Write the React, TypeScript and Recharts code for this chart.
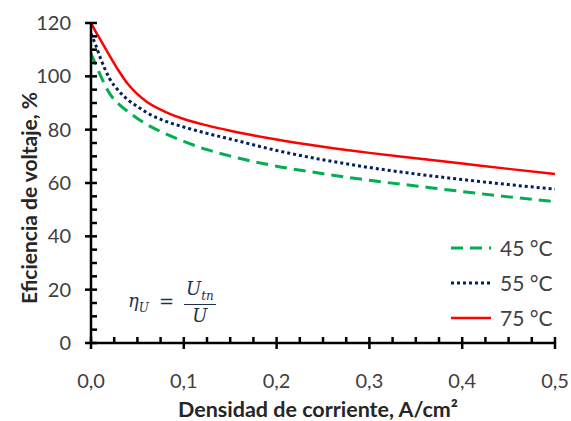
import { LineChart, Line, XAxis, YAxis, Label } from "recharts";

// densidad de corriente, A/cm2
const densidad = [0, 0.005, 0.01, 0.02, 0.03, 0.04, 0.05, 0.06, 0.08, 0.1, 0.125, 0.15, 0.2, 0.25, 0.3, 0.35, 0.4, 0.45, 0.5];
// eficiencia de voltaje, %
const ef45 = [108.5, 104.5, 100.5, 93.6, 89.6, 86.7, 84.2, 82, 78.5, 75.6, 72.5, 70.1, 66.3, 63.5, 61, 58.9, 56.8, 54.8, 53];
const ef55 = [116, 111.8, 107, 99.2, 94.5, 91.1, 88.7, 86.4, 83.2, 81, 78.6, 76.5, 72.2, 68.7, 65.8, 63.4, 61.3, 59.4, 57.7];
const ef75 = [120, 116.8, 113.8, 107.8, 102, 97, 93.3, 90.5, 86.7, 84, 81.6, 79.6, 76.3, 73.6, 71.3, 69.3, 67.3, 65.3, 63.4];

const xTicks = [0, 0.025, 0.05, 0.075, 0.1, 0.125, 0.15, 0.175, 0.2, 0.225, 0.25, 0.275, 0.3, 0.325, 0.35, 0.375, 0.4, 0.425, 0.45, 0.475, 0.5];
const yTicks = [0, 5, 10, 15, 20, 25, 30, 35, 40, 45, 50, 55, 60, 65, 70, 75, 80, 85, 90, 95, 100, 105, 110, 115, 120];

const series = [
  { key: "t45", name: "45 °C", color: "#00b050", dash: "12 7", width: 3 },
  { key: "t55", name: "55 °C", color: "#002060", dash: "3 3", width: 3 },
  { key: "t75", name: "75 °C", color: "#ff0000", dash: undefined, width: 2.5 },
];

const data = densidad.map((d, i) => ({ d, t45: ef45[i], t55: ef55[i], t75: ef75[i] }));

const FONT = "Lato, 'Open Sans', sans-serif";
const TEXT = "#404040";

// avoid a scrollbar: the chart fills the whole 571x421 window
document.body.style.margin = "0";

const isMajorX = (v: number) => Math.abs(v * 10 - Math.round(v * 10)) < 1e-6;
const isMajorY = (v: number) => v % 20 === 0;

const XTick = (props: any) => {
  const { x, y, payload } = props;
  const major = isMajorX(payload.value);
  return (
    <g>
      <line x1={x} x2={x} y1={y - 6} y2={major ? y + 6 : y} stroke="#000" strokeWidth={2.5} />
      {major && (
        <text x={x} y={y + 45} textAnchor="middle" fontSize={20} fontFamily={FONT} fill={TEXT}>
          {payload.value.toFixed(1).replace(".", ",")}
        </text>
      )}
    </g>
  );
};

const YTick = (props: any) => {
  const { x, y, payload } = props;
  const major = isMajorY(payload.value);
  return (
    <g>
      <line x1={major ? x - 6 : x} x2={x + 6} y1={y} y2={y} stroke="#000" strokeWidth={2.5} />
      {major && (
        <text x={x - 20} y={y + 7} textAnchor="end" fontSize={20} fontFamily={FONT} fill={TEXT}>
          {payload.value}
        </text>
      )}
    </g>
  );
};

export default function App() {
  return (
    <div style={{ position: "relative", width: 571, height: 421 }}>
      <div style={{ position: "absolute", left: 8, top: 8 }}>
        <LineChart width={563} height={413} data={data} margin={{ top: 15, right: 16, left: 0, bottom: 0 }}>
          <XAxis
            dataKey="d"
            type="number"
            domain={[0, 0.5]}
            ticks={xTicks}
            interval={0}
            tickSize={0}
            tickMargin={0}
            tickLine={false}
            tick={<XTick />}
            height={78}
            axisLine={{ stroke: "#000", strokeWidth: 2.5 }}
          >
            <Label
              content={() => (
                <text x={310} y={409} textAnchor="middle" fontSize={21.5} fontWeight="bold" fontFamily={FONT} fill="#262626">
                  Densidad de corriente, A/cm²
                </text>
              )}
            />
          </XAxis>
          <YAxis
            type="number"
            domain={[0, 120]}
            ticks={yTicks}
            interval={0}
            tickSize={0}
            tickMargin={0}
            tickLine={false}
            tick={<YTick />}
            width={83}
            axisLine={{ stroke: "#000", strokeWidth: 2.5 }}
          >
            <Label
              content={() => (
                <text
                  x={20}
                  y={190}
                  transform="rotate(-90 20 190)"
                  textAnchor="middle"
                  dominantBaseline="central"
                  fontSize={21}
                  fontWeight="bold"
                  fontFamily={FONT}
                  fill="#262626"
                >
                  Eficiencia de voltaje, %
                </text>
              )}
            />
          </YAxis>
          {series.map((s) => (
            <Line
              key={s.key}
              dataKey={s.key}
              name={s.name}
              type="monotone"
              stroke={s.color}
              strokeWidth={s.width}
              strokeDasharray={s.dash}
              dot={false}
              activeDot={false}
              isAnimationActive={false}
            />
          ))}
        </LineChart>
        <div style={{ position: "absolute", left: 443, top: 222, fontFamily: FONT, fontSize: 21, color: TEXT }}>
          {series.map((s) => (
            <div key={s.key} style={{ display: "flex", alignItems: "center", height: 35 }}>
              <svg width={49} height={10}>
                <line x1={0} x2={40} y1={5} y2={5} stroke={s.color} strokeWidth={s.width} strokeDasharray={s.dash} />
              </svg>
              <span>{s.name}</span>
            </div>
          ))}
        </div>
        <div
          style={{
            position: "absolute",
            left: 120,
            top: 270,
            display: "flex",
            alignItems: "center",
            fontFamily: "'DejaVu Serif', 'Liberation Serif', serif",
            fontStyle: "italic",
            fontSize: 18,
            color: "#1f2f4f",
          }}
        >
          <span>
            η<sub style={{ fontSize: 12 }}>U</sub>
          </span>
          <span style={{ fontStyle: "normal", margin: "0 10px" }}>=</span>
          <span style={{ display: "inline-flex", flexDirection: "column", alignItems: "center" }}>
            <span style={{ borderBottom: "1.5px solid #1f2f4f", padding: "0 2px 1px" }}>
              U<sub style={{ fontSize: 12 }}>tn</sub>
            </span>
            <span>U</span>
          </span>
        </div>
      </div>
    </div>
  );
}
